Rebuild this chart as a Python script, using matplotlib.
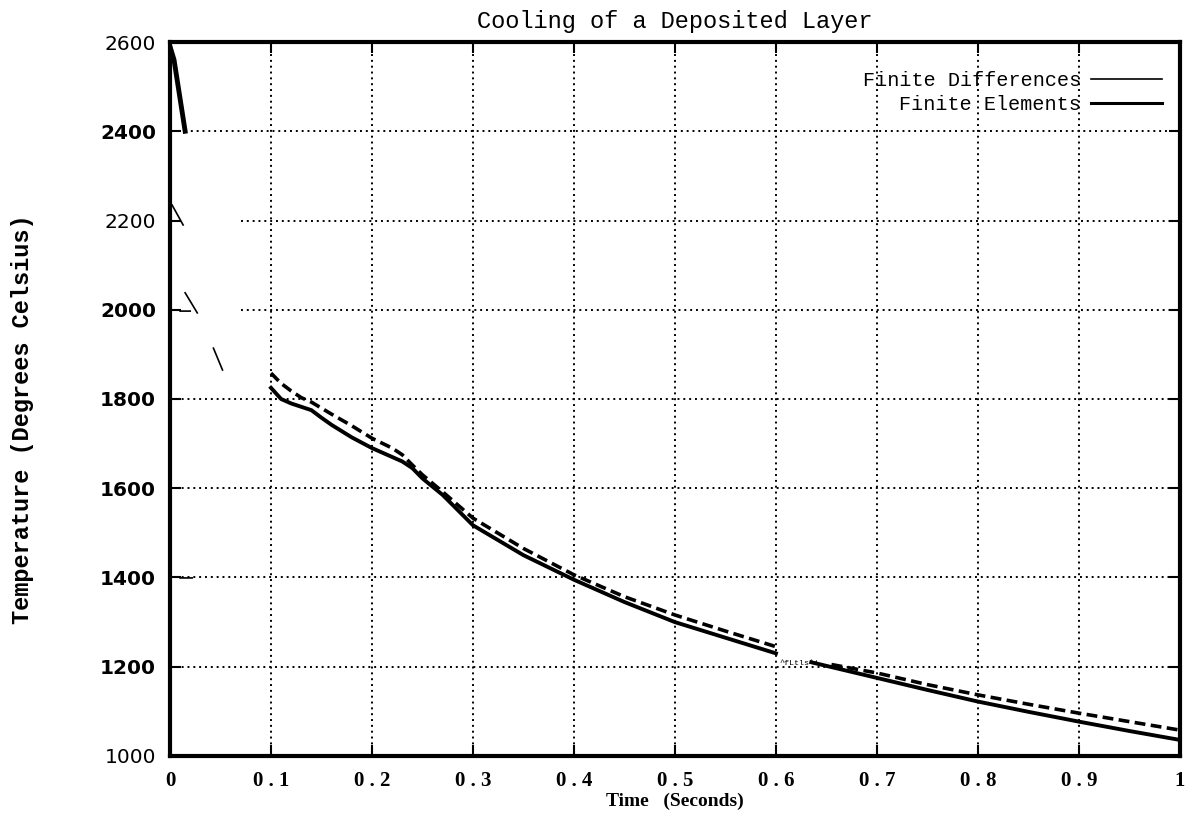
import numpy as np
import matplotlib
matplotlib.use('Agg')
import matplotlib.pyplot as plt
from matplotlib.lines import Line2D

# data (time in s, temperature in deg C)
t_fd = [0.10, 0.11, 0.12, 0.13, 0.14, 0.16, 0.18, 0.20, 0.22, 0.23, 0.24, 0.25,
        0.27, 0.30, 0.35, 0.40, 0.45, 0.50, 0.55, 0.60,
        np.nan, 0.655, 0.70, 0.75, 0.80, 0.85, 0.90, 0.95, 1.00]
T_fd = [1858, 1835, 1818, 1803, 1793, 1766, 1740, 1712, 1690, 1675, 1652, 1630,
        1592, 1533, 1465, 1406, 1357, 1316, 1280, 1245,
        np.nan, 1205, 1186, 1160, 1137, 1116, 1096, 1077, 1058]

t_fe = [0.10, 0.11, 0.12, 0.14, 0.15, 0.16, 0.18, 0.20, 0.22, 0.23, 0.24, 0.25,
        0.27, 0.30, 0.35, 0.40, 0.45, 0.50, 0.55, 0.60,
        np.nan, 0.635, 0.70, 0.75, 0.80, 0.85, 0.90, 0.95, 1.00]
T_fe = [1825, 1800, 1790, 1775, 1758, 1742, 1714, 1690, 1670, 1660, 1645, 1622,
        1585, 1517, 1450, 1395, 1345, 1300, 1265, 1230,
        np.nan, 1210, 1175, 1148, 1122, 1099, 1077, 1056, 1036]

# start of the curve near t=0 and the broken pieces left by the scan
t_start = [0.0, 0.004, 0.015]
T_start = [2590, 2560, 2400]
t_frag = [0.002, 0.013, np.nan, 0.015, 0.027, np.nan, 0.043, 0.052, np.nan,
          0.010, 0.020, np.nan, 0.010, 0.022]
T_frag = [2235, 2190, np.nan, 2038, 1993, np.nan, 1914, 1865, np.nan,
          1997, 1997, np.nan, 1399, 1399]

xticks = [0, 0.1, 0.2, 0.3, 0.4, 0.5, 0.6, 0.7, 0.8, 0.9, 1.0]
xtick_labels = ['0', '0.1', '0.2', '0.3', '0.4', '0.5', '0.6', '0.7', '0.8', '0.9', '1']
yticks = [1000, 1200, 1400, 1600, 1800, 2000, 2200, 2400, 2600]
ybold = [False, True, True, True, True, True, False, True, False]
# where each horizontal grid line begins (upper left of the scan is blank)
grid_from = [0, 0, 0, 0, 0, 0.07, 0.07, 0.015, 0]

fig = plt.figure(figsize=(11.98, 8.22), dpi=100)
ax = fig.add_axes([0.1419, 0.0803, 0.843, 0.8686])

# grid
for y, x0 in zip(yticks[1:-1], grid_from[1:-1]):
    ax.plot([x0, 1], [y, y], color='black', lw=1.4, ls=(0, (1, 2)), zorder=1)
for x in xticks[1:-1]:
    ax.axvline(x, color='black', lw=1.4, ls=(0, (1, 2)), zorder=1)

ax.plot(t_fd, T_fd, color='black', lw=2.6, ls=(0, (3, 1.5)), zorder=3)
ax.plot(t_fe, T_fe, color='black', lw=2.8, zorder=3)
ax.plot(t_start, T_start, color='black', lw=3.5, zorder=3)
ax.plot(t_frag, T_frag, color='black', lw=1.2, zorder=3)

ax.text(0.603, 1203, '^fLtls^i', fontsize=6, family='Liberation Mono')

ax.set_xlim(0, 1)
ax.set_ylim(1000, 2600)
ax.set_xticks(xticks)
ax.set_xticklabels([s.replace('.', ' . ') for s in xtick_labels],
                   family='Liberation Serif', fontweight='bold', fontsize=15)
ax.set_yticks(yticks)
ax.set_yticklabels([str(v) for v in yticks], family='DejaVu Sans', fontsize=14.5)
for lab, b in zip(ax.get_yticklabels(), ybold):
    if b:
        lab.set_fontweight('bold')
ax.tick_params(axis='x', pad=11)
ax.tick_params(axis='y', pad=10)
ax.tick_params(direction='in', length=8, width=1.5, top=True, right=True)
for s in ax.spines.values():
    s.set_linewidth(3)

ax.set_title('Cooling of a Deposited Layer', family='Liberation Mono', fontsize=17, pad=10)
ax.set_xlabel('Time   (Seconds)', family='Liberation Serif', fontweight='bold',
              fontsize=14, labelpad=1)
fig.text(0.019, 0.49, 'Temperature (Degrees Celsius)', rotation=90, va='center',
         ha='center', family='Liberation Mono', fontweight='bold', fontsize=17)

handles = [Line2D([], [], color='black', lw=1.2), Line2D([], [], color='black', lw=2.2)]
ax.legend(handles, ['Finite Differences', 'Finite Elements'], loc='upper right',
          frameon=False, markerfirst=False, handlelength=3.5, handletextpad=0.5,
          labelspacing=0.25, prop={'family': 'Liberation Mono', 'size': 14.5},
          bbox_to_anchor=(1.0, 0.985))

fig.savefig('out.png', dpi=100)
